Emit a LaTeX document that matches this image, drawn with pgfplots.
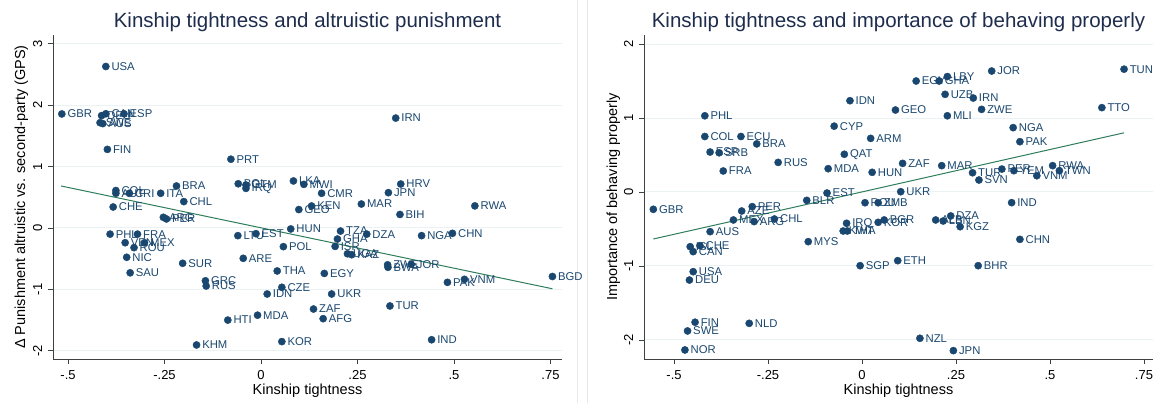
\documentclass[border=0pt]{standalone}
\usepackage{pgfplots}
\pgfplotsset{compat=1.18}
\usepackage{pgfplotstable}
\usepackage{fontspec}
\setmainfont{Liberation Sans}
\definecolor{navy}{HTML}{1A476F}
\definecolor{titlec}{HTML}{1E2D4E}
\definecolor{fitc}{HTML}{2E7D5B}
\definecolor{gridc}{HTML}{EAF2F3}
\definecolor{axc}{HTML}{404040}
\definecolor{borderc}{HTML}{E8E8E8}

\pgfplotstableread{
x y label
-0.402 2.63 USA
-0.516 1.857 GBR
-0.413 1.83 DEU
-0.402 1.86 CAN
-0.355 1.86 ESP
-0.417 1.715 SWE
-0.410 1.70 AUS
-0.398 1.28 FIN
-0.078 1.12 PRT
-0.059 0.72 BOL
-0.039 0.70 GTM
-0.039 0.645 IRQ
0.084 0.766 LKA
0.111 0.71 MWI
0.157 0.565 CMR
0.362 0.716 HRV
0.330 0.575 JPN
0.349 1.79 IRN
-0.376 0.61 COL
-0.376 0.565 AUT
-0.341 0.565 CRI
-0.260 0.565 ITA
-0.219 0.684 BRA
-0.200 0.43 CHL
-0.383 0.342 CHE
-0.253 0.174 ARG
-0.245 0.147 PER
-0.391 -0.10 PHL
-0.320 -0.10 FRA
-0.352 -0.24 VEN
-0.302 -0.24 MEX
-0.329 -0.32 ROU
-0.348 -0.477 NIC
-0.339 -0.73 SAU
-0.203 -0.575 SUR
-0.144 -0.86 GRC
-0.142 -0.945 RUS
-0.086 -1.50 HTI
-0.009 -1.42 MDA
-0.167 -1.905 KHM
0.054 -1.85 KOR
-0.060 -0.125 LTU
-0.013 -0.093 EST
-0.046 -0.494 ARE
0.042 -0.70 THA
0.054 -0.966 CZE
0.016 -1.075 IDN
0.058 -0.304 POL
0.077 -0.016 HUN
0.131 0.358 KEN
0.098 0.30 GEO
0.260 0.39 MAR
0.360 0.22 BIH
0.554 0.36 RWA
0.206 -0.05 TZA
0.274 -0.10 DZA
0.198 -0.18 GHA
0.192 -0.30 ISR
0.224 -0.42 UGA
0.235 -0.435 KAZ
0.416 -0.125 NGA
0.496 -0.087 CHN
0.328 -0.60 ZWE
0.329 -0.64 BWA
0.389 -0.59 JOR
0.164 -0.74 EGY
0.183 -1.075 UKR
0.136 -1.32 ZAF
0.161 -1.477 AFG
0.334 -1.27 TUR
0.442 -1.82 IND
0.483 -0.885 PAK
0.527 -0.836 VNM
0.755 -0.79 BGD
}\leftdata

\pgfplotstableread{
x y label
-0.418 1.03 PHL
-0.418 0.75 COL
-0.322 0.75 ECU
-0.280 0.65 BRA
-0.404 0.54 ESP
-0.380 0.53 SRB
-0.369 0.284 FRA
-0.223 0.40 RUS
-0.032 1.234 IDN
-0.074 0.89 CYP
0.023 0.725 ARM
-0.047 0.51 QAT
-0.090 0.315 MDA
0.027 0.266 HUN
0.108 0.387 ZAF
0.212 0.356 MAR
0.294 0.26 TUR
0.311 0.162 SVN
0.372 0.31 PER
0.404 0.288 YEM
0.465 0.22 VNM
0.507 0.356 RWA
0.525 0.288 TWN
0.402 0.87 NGA
0.420 0.68 PAK
0.103 0.004 UKR
0.089 1.108 GEO
0.144 1.50 EGY
0.205 1.50 GHA
0.227 1.56 LBY
0.221 1.32 UZB
0.296 1.27 IRN
0.227 1.03 MLI
0.318 1.117 ZWE
0.345 1.635 JOR
0.697 1.66 TUN
0.638 1.14 TTO
-0.555 -0.234 GBR
-0.292 -0.198 PER
-0.320 -0.257 AZE
-0.342 -0.378 MEX
-0.287 -0.40 ARG
-0.233 -0.365 CHL
-0.404 -0.536 AUS
-0.143 -0.671 MYS
-0.457 -0.739 ISL
-0.431 -0.725 CHE
-0.449 -0.806 CAN
-0.449 -1.077 USA
-0.459 -1.19 DEU
-0.444 -1.76 FIN
-0.300 -1.775 NLD
-0.464 -1.878 SWE
-0.471 -2.135 NOR
-0.005 -0.996 SGP
-0.147 -0.113 BLR
-0.093 -0.014 EST
-0.041 -0.423 IRQ
-0.050 -0.527 KWT
-0.039 -0.527 THA
0.008 -0.145 ROU
0.043 -0.145 ZMB
0.043 -0.41 KOR
0.059 -0.378 BGR
0.236 -0.324 DZA
0.196 -0.378 ALB
0.216 -0.392 LBN
0.261 -0.469 KGZ
0.420 -0.64 CHN
0.095 -0.928 ETH
0.309 -0.996 BHR
0.154 -1.977 NZL
0.243 -2.144 JPN
0.398 -0.144 IND
}\rightdata

\pgfplotsset{
  stata/.style={
    scale only axis, width=509pt, height=324pt,
    anchor=south west,
    axis x line*=bottom, axis y line*=left,
    tick align=outside, major tick length=5pt,
    ymajorgrids, grid style={color=gridc, line width=1pt},
    axis line style={line width=0.9pt, color=axc},
    every tick/.style={line width=0.9pt, color=axc},
    /pgf/number format/assume math mode=true,
    tick label style={font=\fontsize{13}{13}\selectfont},
    xtick={-0.5,-0.25,0,0.25,0.5,0.75},
    xticklabels={-.5,-.25,0,.25,.5,.75},
    xticklabel style={anchor=base, yshift=-16pt},
    yticklabel style={rotate=90, anchor=base, yshift=6pt},
    label style={font=\fontsize{14.5}{14.5}\selectfont},
    xlabel={Kinship tightness},
    xlabel style={at={(axis description cs:0.5,0)}, anchor=base, yshift=-36pt},
    title style={at={(axis description cs:0.5,1)}, anchor=base, yshift=1.7pt,
      font=\fontsize{20.5}{20.5}\selectfont, color=titlec},
    clip=false,
  },
  pts/.style={only marks, mark=*, mark size=3.6pt, color=navy,
    nodes near coords={\pgfplotspointmeta},
    point meta=explicit symbolic,
    every node near coord/.style={anchor=west, inner sep=0pt, xshift=5.5pt,
      font=\fontsize{11.3}{11.3}\selectfont, text=navy}},
}

\begin{document}
\begin{tikzpicture}[x=1pt,y=1pt]
\path[use as bounding box] (0,0) rectangle (1158,403);
\fill[white] (0,0) rectangle (1158,403);
\draw[borderc, line width=1pt] (577,0) -- (577,403);
\draw[borderc, line width=1pt] (587,0) -- (587,403);

\begin{axis}[stata, at={(53pt,44pt)},
  xmin=-0.5389, xmax=0.7798, ymin=-2.1336, ymax=3.143,
  ytick={-2,-1,0,1,2,3}, yticklabels={-2,-1,0,1,2,3},
  ylabel={Δ Punishment altruistic vs. second-party (GPS)},
  ylabel style={at={(axis description cs:-0.055,0.5)}, anchor=base},
  title={Kinship tightness and altruistic punishment}]
\addplot[fitc, line width=1pt] coordinates {(-0.518,0.684) (0.755,-0.99)};
\addplot[pts] table[x=x, y=y, meta=label] {\leftdata};
\end{axis}

\begin{axis}[stata, at={(644pt,44pt)},
  xmin=-0.5798, xmax=0.774, ymin=-2.257, ymax=2.122,
  ytick={-2,-1,0,1,2}, yticklabels={-2,-1,0,1,2},
  ylabel={Importance of behaving properly},
  ylabel style={at={(axis description cs:-0.053,0.5)}, anchor=base},
  title={Kinship tightness and importance of behaving properly}]
\addplot[fitc, line width=1pt] coordinates {(-0.555,-0.635) (0.697,0.80)};
\addplot[pts] table[x=x, y=y, meta=label] {\rightdata};
\end{axis}
\end{tikzpicture}
\end{document}
